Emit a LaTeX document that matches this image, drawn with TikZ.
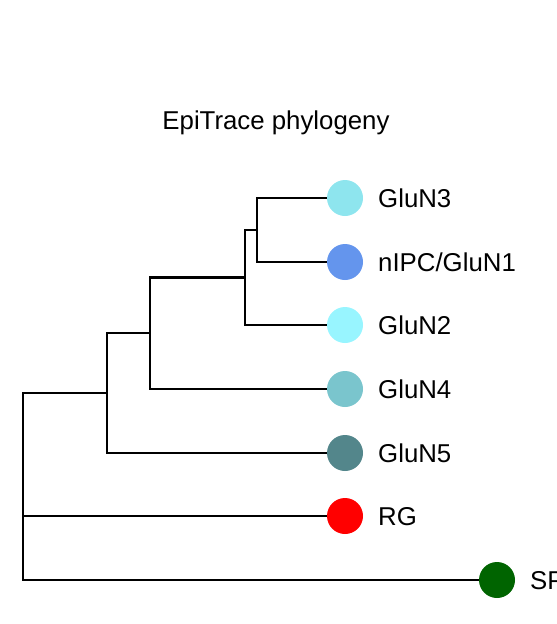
\documentclass[tikz,border=0pt]{standalone}
\usepackage{fontspec}
\setmainfont{Liberation Sans}
\definecolor{cbOne}{HTML}{98F5FF}
\definecolor{cbTwo}{HTML}{8EE5EE}
\definecolor{cbThree}{HTML}{7AC5CD}
\definecolor{cbFour}{HTML}{53868B}
\definecolor{nipc}{HTML}{6495ED}
\definecolor{rgc}{HTML}{FF0000}
\definecolor{spc}{HTML}{006400}
\begin{document}
\begin{tikzpicture}[x=1pt,y=-1pt,
  leaf/.style={circle,minimum size=36pt,inner sep=0pt,draw=none},
  lab/.style={anchor=base west,inner sep=0pt,font=\fontsize{25.8}{30}\selectfont},
  branch/.style={line width=2.2pt,black}]
\useasboundingbox (0,0) rectangle (557,624);
\node[font=\fontsize{25.8}{30}\selectfont] (title) at (276,123) {EpiTrace phylogeny};
% leaves
\node[leaf,fill=cbTwo] (g3) at (345,198) {};
\node[leaf,fill=nipc] (g1) at (345,262) {};
\node[leaf,fill=cbOne] (g2) at (345,325) {};
\node[leaf,fill=cbThree] (g4) at (345,389) {};
\node[leaf,fill=cbFour] (g5) at (345,453) {};
\node[leaf,fill=rgc] (rg) at (345,516) {};
\node[leaf,fill=spc] (sp) at (497,580) {};
% labels
\node[lab] (tg3) at (378,207.2) {GluN3};
\node[lab] (tg1) at (378,271.2) {nIPC/GluN1};
\node[lab] (tg2) at (378,334.2) {GluN2};
\node[lab] (tg4) at (378,398.2) {GluN4};
\node[lab] (tg5) at (378,462.2) {GluN5};
\node[lab] (trg) at (378,525.2) {RG};
\node[lab] (tsp) at (530,589.2) {SP};
% internal nodes
\coordinate (n1) at (257,230);
\coordinate (n2) at (245,277.5);
\coordinate (n3) at (150,333);
\coordinate (n4) at (107,393);
\coordinate (r) at (23,486.5);
% branches
\draw[branch] (n1) |- (g3);
\draw[branch] (n1) |- (g1);
\draw[branch] (n2) |- (n1);
\draw[branch] (n2) |- (g2);
\draw[branch] (n3) |- (n2);
\draw[branch] (n3) |- (g4);
\draw[branch] (n4) |- (n3);
\draw[branch] (n4) |- (g5);
\draw[branch] (r) |- (n4);
\draw[branch] (r) |- (rg);
\draw[branch] (r) |- (sp);
\end{tikzpicture}
\end{document}
